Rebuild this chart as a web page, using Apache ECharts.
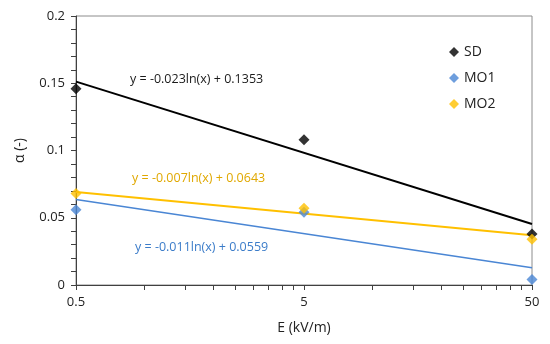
<!DOCTYPE html>
<html>
<head>
<meta charset="utf-8">
<script src="https://cdn.jsdelivr.net/npm/echarts@6/dist/echarts.min.js"></script>
<style>html,body{margin:0;padding:0;background:#fff;}#c{width:550px;height:344px;}</style>
</head>
<body>
<div id="c"></div>
<script>
// Data
const eValues = [0.5, 5, 50];
const sdValues = [0.146, 0.108, 0.038];
const mo1Values = [0.056, 0.054, 0.004];
const mo2Values = [0.068, 0.057, 0.034];
// Trendline end points (at E = 0.5 and E = 50)
const trendX = [0.5, 50];
const sdTrend = [0.1512, 0.0453];
const mo1Trend = [0.0635, 0.0129];
const mo2Trend = [0.0692, 0.0369];
const xLabelValues = [0.5, 5, 50];
const xTickValues = [0.5, 1, 1.5, 2, 2.5, 3, 3.5, 4, 4.5, 5, 10, 15, 20, 25, 30, 35, 40, 45, 50];
const equations = ['y = -0.023ln(x) + 0.1353', 'y = -0.007ln(x) + 0.0643', 'y = -0.011ln(x) + 0.0559'];

const FONT = 'Open Sans';
const C_SD = '#000000', C_MO1 = '#4a86d4', C_MO2 = '#ffc000';
const pair = (xs, ys) => xs.map((x, i) => [x, ys[i]]);

const chart = echarts.init(document.getElementById('c'));
chart.setOption({
  animation: false,
  textStyle: { fontFamily: FONT },
  grid: { left: 76, right: 18, top: 16, bottom: 59, show: true, borderColor: '#8c8c8c', borderWidth: 1 },
  legend: {
    orient: 'vertical', left: 444, top: 40, itemWidth: 10, itemHeight: 10, itemGap: 12,
    icon: 'diamond',
    textStyle: { fontSize: 14, color: '#222', fontFamily: FONT },
    data: ['SD', 'MO1', 'MO2']
  },
  xAxis: {
    type: 'log', logBase: 10, min: 0.5, max: 50,
    name: 'E (kV/m)', nameLocation: 'middle', nameGap: 36,
    nameTextStyle: { fontSize: 14, color: '#222', fontFamily: FONT },
    axisLine: { lineStyle: { color: '#404040', width: 1 } },
    axisTick: { show: true, length: 5, customValues: xTickValues, lineStyle: { color: '#404040' } },
    minorTick: { show: false },
    axisLabel: { customValues: xLabelValues, fontSize: 13, color: '#222', margin: 11, formatter: v => String(v) },
    splitLine: { show: false }
  },
  yAxis: {
    type: 'value', min: 0, max: 0.2, interval: 0.05,
    name: 'α (-)', nameLocation: 'middle', nameGap: 49,
    nameTextStyle: { fontSize: 14, color: '#222', fontFamily: FONT },
    axisLine: { show: true, lineStyle: { color: '#404040', width: 1 } },
    axisTick: { show: true, length: 5, lineStyle: { color: '#404040' } },
    minorTick: { show: true, splitNumber: 5, length: 5, lineStyle: { color: '#404040' } },
    axisLabel: { fontSize: 13, color: '#222', margin: 11 },
    splitLine: { show: false }
  },
  series: [
    { name: 'SDtrend', type: 'line', data: pair(trendX, sdTrend), showSymbol: false, symbol: 'none', lineStyle: { color: C_SD, width: 2 }, z: 2 },
    { name: 'MO1trend', type: 'line', data: pair(trendX, mo1Trend), showSymbol: false, symbol: 'none', lineStyle: { color: C_MO1, width: 1.5 }, z: 2 },
    { name: 'MO2trend', type: 'line', data: pair(trendX, mo2Trend), showSymbol: false, symbol: 'none', lineStyle: { color: C_MO2, width: 2 }, z: 2 },
    { name: 'SD', type: 'scatter', data: pair(eValues, sdValues), symbol: 'diamond', symbolSize: 11, itemStyle: { color: C_SD }, z: 5 },
    { name: 'MO1', type: 'scatter', data: pair(eValues, mo1Values), symbol: 'diamond', symbolSize: 11, itemStyle: { color: C_MO1 }, z: 4 },
    { name: 'MO2', type: 'scatter', data: pair(eValues, mo2Values), symbol: 'diamond', symbolSize: 11, itemStyle: { color: C_MO2 }, z: 5 }
  ],
  graphic: [
    { type: 'text', left: 130, top: 73, style: { text: equations[0], fill: '#1a1a1a', font: '12.5px "Open Sans"' } },
    { type: 'text', left: 132, top: 172, style: { text: equations[1], fill: '#e0a800', font: '12.5px "Open Sans"' } },
    { type: 'text', left: 135, top: 241, style: { text: equations[2], fill: '#3b7cc9', font: '12.5px "Open Sans"' } }
  ]
});
</script>
</body>
</html>
